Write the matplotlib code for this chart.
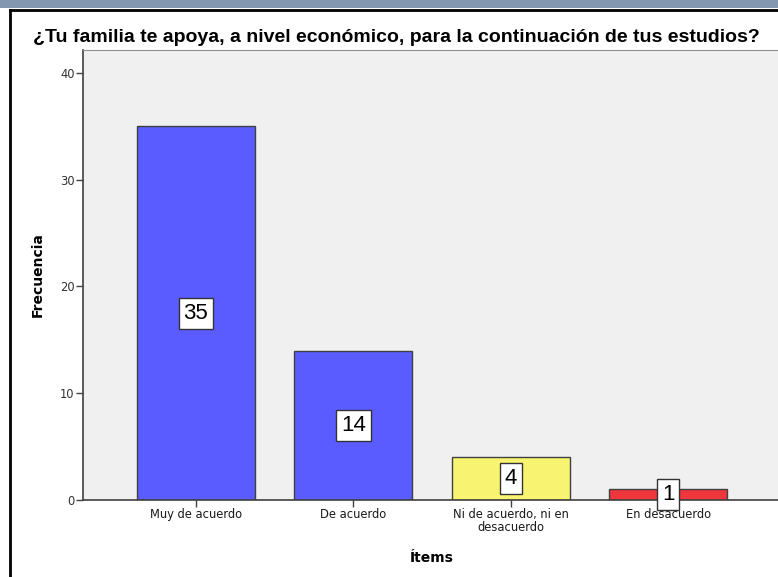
import matplotlib.pyplot as plt
from matplotlib.patches import Rectangle
from matplotlib.lines import Line2D

categories = ["Muy de acuerdo", "De acuerdo", "Ni de acuerdo, ni en\ndesacuerdo", "En desacuerdo"]
counts = [35, 14, 4, 1]
bar_colors = ["#5a5cff", "#5a5cff", "#f8f471", "#ee363c"]
yticks = [0, 10, 20, 30, 40]
title = "¿Tu familia te apoya, a nivel económico, para la continuación de tus estudios?"

plt.rcParams["font.family"] = ["DejaVu Sans"]

fig = plt.figure(figsize=(7.78, 5.77), dpi=100)
fig.patch.set_facecolor("white")

# window chrome: header band and frame lines
fig.patches.append(Rectangle((0, 1 - 8 / 577), 1, 8 / 577, transform=fig.transFigure,
                             facecolor="#8497b0", edgecolor="none", zorder=0))
fig.lines.append(Line2D([10 / 778, 1], [1 - 10 / 577, 1 - 10 / 577], transform=fig.transFigure,
                        color="black", lw=2))
fig.lines.append(Line2D([10 / 778, 10 / 778], [0, 1 - 10 / 577], transform=fig.transFigure,
                        color="black", lw=2))

ax = fig.add_axes([83 / 778, 1 - 500 / 577, 698 / 778, 450 / 577])
ax.set_facecolor("#f0f0f0")

x = list(range(len(categories)))
ax.bar(x, counts, width=0.75, color=bar_colors, edgecolor="#404040", linewidth=1, zorder=2)

for xi, c in zip(x, counts):
    ax.text(xi, c / 2, str(c), ha="center", va="center", fontsize=16, zorder=5,
            family=["Liberation Sans"],
            bbox=dict(boxstyle="square,pad=0.22", facecolor="white", edgecolor="#333333", lw=1))

ax.set_xlim(-0.717, 3.717)
ax.set_ylim(0, 42.15)
ax.set_yticks(yticks)
ax.set_xticks(x)
ax.set_xticklabels(categories, fontsize=8.3, linespacing=0.95)
ax.tick_params(axis="y", labelsize=8.3, length=5, width=1, color="#404040", labelcolor="#333333", pad=1)
ax.tick_params(axis="x", length=5, width=1, color="#404040", labelcolor="#1a1a1a", pad=1)

for side in ["left", "bottom"]:
    ax.spines[side].set_color("#404040")
    ax.spines[side].set_linewidth(1.2)
ax.spines["top"].set_color("#909090")
ax.spines["right"].set_visible(False)

ax.set_ylabel("Frecuencia", fontsize=10, fontweight="bold", labelpad=11)
ax.set_xlabel("Ítems", fontsize=10, fontweight="bold", labelpad=12)

fig.text(33 / 778, 1 - 37 / 577, title, fontsize=14, fontweight="bold", ha="left", va="center",
         family=["Liberation Sans"])

fig.savefig("out.png", dpi=100)
